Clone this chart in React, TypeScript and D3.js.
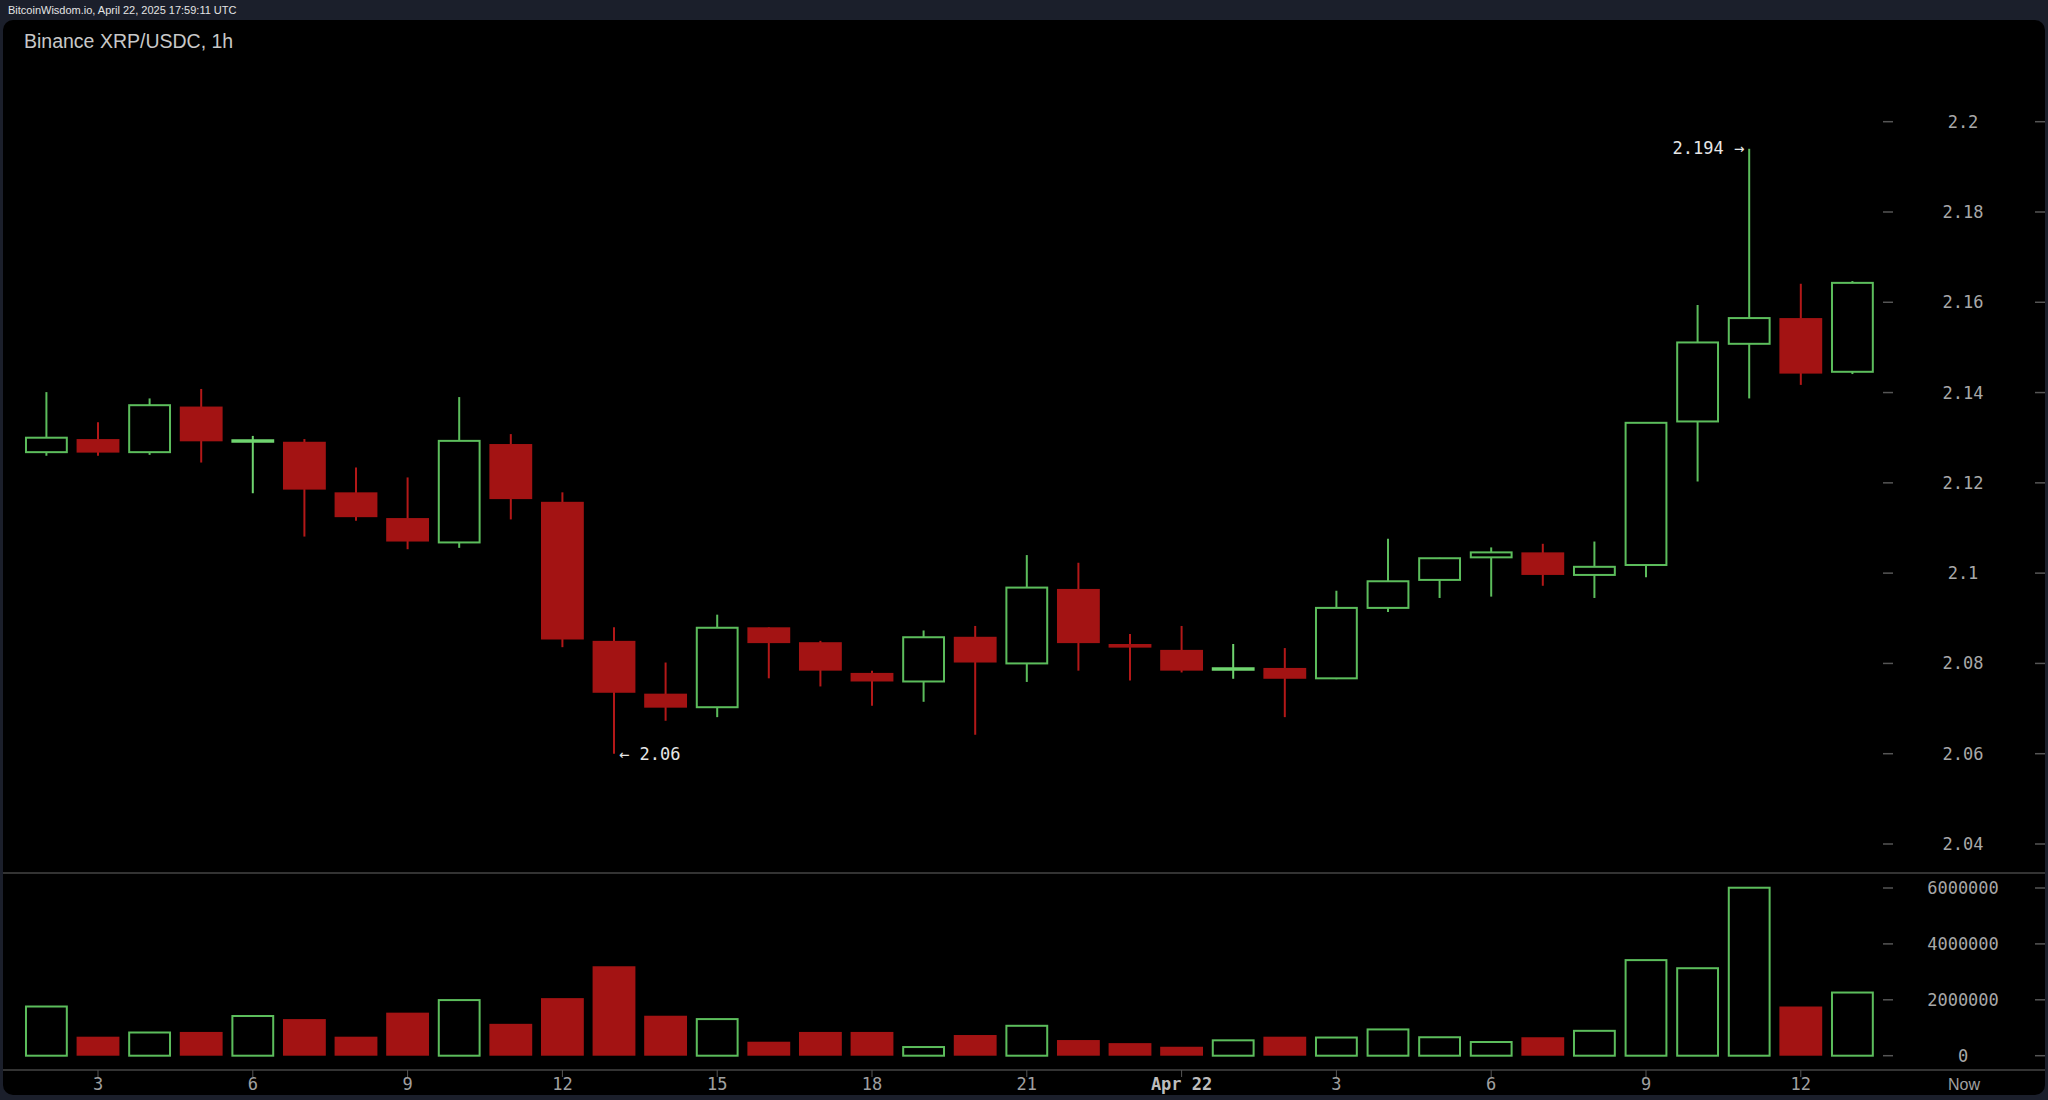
import React, { useRef, useEffect } from 'react';
import * as d3 from 'd3';

// hourly candles, Binance XRP/USDC
const times = [
  '2025-04-21 02:00', '2025-04-21 03:00', '2025-04-21 04:00', '2025-04-21 05:00',
  '2025-04-21 06:00', '2025-04-21 07:00', '2025-04-21 08:00', '2025-04-21 09:00',
  '2025-04-21 10:00', '2025-04-21 11:00', '2025-04-21 12:00', '2025-04-21 13:00',
  '2025-04-21 14:00', '2025-04-21 15:00', '2025-04-21 16:00', '2025-04-21 17:00',
  '2025-04-21 18:00', '2025-04-21 19:00', '2025-04-21 20:00', '2025-04-21 21:00',
  '2025-04-21 22:00', '2025-04-21 23:00', '2025-04-22 00:00', '2025-04-22 01:00',
  '2025-04-22 02:00', '2025-04-22 03:00', '2025-04-22 04:00', '2025-04-22 05:00',
  '2025-04-22 06:00', '2025-04-22 07:00', '2025-04-22 08:00', '2025-04-22 09:00',
  '2025-04-22 10:00', '2025-04-22 11:00', '2025-04-22 12:00', '2025-04-22 13:00',
];

const opens = [
  2.1268, 2.1297, 2.1268, 2.1369, 2.1292, 2.1291, 2.1179, 2.1122, 2.1068, 2.1286,
  2.1158, 2.0850, 2.0733, 2.0703, 2.0880, 2.0847, 2.0779, 2.0760, 2.0859, 2.0800,
  2.0965, 2.0843, 2.0830, 2.0787, 2.0790, 2.0767, 2.0923, 2.0985, 2.1035, 2.1046,
  2.0996, 2.1018, 2.1336, 2.1508, 2.1565, 2.1446,
];
const highs = [
  2.1401, 2.1334, 2.1387, 2.1408, 2.1304, 2.1297, 2.1234, 2.1212, 2.1390, 2.1308,
  2.1179, 2.0880, 2.0802, 2.0908, 2.0880, 2.0850, 2.0784, 2.0873, 2.0883, 2.1040,
  2.1023, 2.0865, 2.0883, 2.0843, 2.0834, 2.0961, 2.1076, 2.1034, 2.1057, 2.1065,
  2.1070, 2.1335, 2.1594, 2.1940, 2.1641, 2.1647,
];
const lows = [
  2.1260, 2.1260, 2.1262, 2.1245, 2.1177, 2.1081, 2.1116, 2.1053, 2.1056, 2.1119,
  2.0836, 2.0600, 2.0673, 2.0681, 2.0767, 2.0749, 2.0706, 2.0715, 2.0642, 2.0759,
  2.0784, 2.0762, 2.0780, 2.0766, 2.0681, 2.0765, 2.0914, 2.0945, 2.0948, 2.0972,
  2.0945, 2.0991, 2.1203, 2.1387, 2.1417, 2.1441,
];
const closes = [
  2.1300, 2.1267, 2.1372, 2.1292, 2.1293, 2.1185, 2.1124, 2.1070, 2.1293, 2.1164,
  2.0853, 2.0735, 2.0702, 2.0879, 2.0845, 2.0784, 2.0760, 2.0858, 2.0802, 2.0968,
  2.0845, 2.0835, 2.0784, 2.0788, 2.0766, 2.0923, 2.0982, 2.1033, 2.1046, 2.0996,
  2.1014, 2.1333, 2.1511, 2.1565, 2.1442, 2.1643,
];
const volumes = [
  1760000, 680000, 830000, 850000, 1420000, 1310000, 680000, 1540000, 1990000, 1140000,
  2060000, 3200000, 1430000, 1310000, 500000, 850000, 850000, 310000, 740000, 1070000,
  560000, 450000, 320000, 550000, 680000, 650000, 940000, 660000, 490000, 660000,
  890000, 3420000, 3130000, 6010000, 1760000, 2260000,
];

const priceTicks = [2.04, 2.06, 2.08, 2.1, 2.12, 2.14, 2.16, 2.18, 2.2];
const volumeTicks = [0, 2000000, 4000000, 6000000];

const GREEN = '#5cbd5c';
const GREEN_DOJI = '#6fd46f';
const RED = '#a31313';
const MONO = '"DejaVu Sans Mono", monospace';

const CandleChart: React.FC<{ width?: number; height?: number }> = ({ width = 2048, height = 1100 }) => {
  const svgRef = useRef<SVGSVGElement>(null);

  useEffect(() => {
    if (!svgRef.current) return;
    const svg = d3.select(svgRef.current);
    svg.selectAll('*').remove();

    const parse = d3.timeParse('%Y-%m-%d %H:%M');
    const data = times.map((t, i) => ({
      date: parse(t) as Date,
      open: opens[i],
      high: highs[i],
      low: lows[i],
      close: closes[i],
      volume: volumes[i],
    }));

    // frame
    svg.append('rect').attr('width', width).attr('height', height).attr('fill', '#1b1f2b');
    svg.append('rect')
      .attr('x', 3).attr('y', 20)
      .attr('width', width - 6).attr('height', height - 25)
      .attr('rx', 10)
      .attr('fill', '#000');

    svg.append('text')
      .attr('x', 8).attr('y', 14)
      .style('font-family', '"Liberation Sans", Arial, sans-serif')
      .style('font-size', '11px')
      .style('fill', '#e4e4e4')
      .text('BitcoinWisdom.io, April 22, 2025 17:59:11 UTC');

    svg.append('text')
      .attr('x', 24).attr('y', 48)
      .style('font-family', '"Liberation Sans", Arial, sans-serif')
      .style('font-size', '19.5px')
      .style('fill', '#c8c8c8')
      .text('Binance XRP/USDC, 1h');

    // scales
    const xScale = d3.scaleTime()
      .domain([data[0].date, data[data.length - 1].date])
      .range([46.4, 1852.4]);
    const step = xScale(data[1].date) - xScale(data[0].date);
    const bodyW = step * 0.83;

    const yPrice = d3.scaleLinear().domain([2.04, 2.2]).range([844, 121.7]);
    const yVol = d3.scaleLinear().domain([0, 6000000]).range([1055.7, 888]);

    // pane separators
    [873, 1070].forEach(y => {
      svg.append('line')
        .attr('x1', 3).attr('x2', width - 3)
        .attr('y1', y).attr('y2', y)
        .attr('stroke', '#454545')
        .attr('stroke-width', 1.5);
    });

    // right axis (price + volume)
    const axisG = svg.append('g');
    const drawTick = (y: number, label: string) => {
      axisG.append('line').attr('x1', 1883).attr('x2', 1893).attr('y1', y).attr('y2', y)
        .attr('stroke', '#555').attr('stroke-width', 1.5);
      axisG.append('line').attr('x1', 2035).attr('x2', 2045).attr('y1', y).attr('y2', y)
        .attr('stroke', '#555').attr('stroke-width', 1.5);
      axisG.append('text')
        .attr('x', 1963).attr('y', y)
        .attr('text-anchor', 'middle')
        .attr('dominant-baseline', 'central')
        .style('font-family', MONO)
        .style('font-size', '17px')
        .style('fill', '#a8a8a8')
        .text(label);
    };
    priceTicks.forEach(p => drawTick(yPrice(p), String(+p.toFixed(4))));
    volumeTicks.forEach(v => drawTick(yVol(v), d3.format('d')(v)));

    // x axis
    const xTicks = xScale.ticks(d3.timeHour.every(3) as d3.TimeInterval);
    const xg = svg.append('g');
    xTicks.forEach(t => {
      const x = xScale(t);
      const midnight = t.getHours() === 0;
      xg.append('line').attr('x1', x).attr('x2', x).attr('y1', 1070).attr('y2', 1077)
        .attr('stroke', '#555').attr('stroke-width', 1);
      xg.append('text')
        .attr('x', x).attr('y', 1090)
        .attr('text-anchor', 'middle')
        .style('font-family', MONO)
        .style('font-size', '17px')
        .style('font-weight', midnight ? 'bold' : 'normal')
        .style('fill', midnight ? '#bdbdbd' : '#a0a0a0')
        .text(midnight ? d3.timeFormat('%b %-d')(t) : d3.timeFormat('%-H')(t));
    });
    xg.append('text')
      .attr('x', 1964).attr('y', 1090)
      .attr('text-anchor', 'middle')
      .style('font-family', '"Liberation Sans", Arial, sans-serif')
      .style('font-size', '16px')
      .style('fill', '#a0a0a0')
      .text('Now');

    // volume bars
    const volG = svg.append('g');
    data.forEach(d => {
      const up = d.close >= d.open;
      const x = xScale(d.date);
      volG.append('rect')
        .attr('x', x - bodyW / 2 + (up ? 1 : 0))
        .attr('y', yVol(d.volume))
        .attr('width', bodyW - (up ? 2 : 0))
        .attr('height', yVol(0) - yVol(d.volume))
        .attr('fill', up ? 'none' : RED)
        .attr('stroke', up ? GREEN : 'none')
        .attr('stroke-width', 2);
    });

    // candles
    const cG = svg.append('g');
    data.forEach(d => {
      const up = d.close >= d.open;
      const x = xScale(d.date);
      const top = yPrice(Math.max(d.open, d.close));
      const bot = yPrice(Math.min(d.open, d.close));
      const color = up ? GREEN : RED;
      if (bot - top < 2) {
        cG.append('line').attr('x1', x).attr('x2', x)
          .attr('y1', yPrice(d.high)).attr('y2', yPrice(d.low))
          .attr('stroke', up ? GREEN_DOJI : RED).attr('stroke-width', 2);
        cG.append('line').attr('x1', x - bodyW / 2).attr('x2', x + bodyW / 2)
          .attr('y1', (top + bot) / 2).attr('y2', (top + bot) / 2)
          .attr('stroke', up ? GREEN_DOJI : RED).attr('stroke-width', 3.5);
        return;
      }
      if (up) {
        cG.append('line').attr('x1', x).attr('x2', x)
          .attr('y1', yPrice(d.high)).attr('y2', top)
          .attr('stroke', color).attr('stroke-width', 2);
        cG.append('line').attr('x1', x).attr('x2', x)
          .attr('y1', bot).attr('y2', yPrice(d.low))
          .attr('stroke', color).attr('stroke-width', 2);
        cG.append('rect')
          .attr('x', x - bodyW / 2 + 1).attr('y', top)
          .attr('width', bodyW - 2).attr('height', bot - top)
          .attr('fill', 'none').attr('stroke', color).attr('stroke-width', 2);
      } else {
        cG.append('line').attr('x1', x).attr('x2', x)
          .attr('y1', yPrice(d.high)).attr('y2', yPrice(d.low))
          .attr('stroke', '#b31818').attr('stroke-width', 2);
        cG.append('rect')
          .attr('x', x - bodyW / 2).attr('y', top)
          .attr('width', bodyW).attr('height', bot - top)
          .attr('fill', color);
      }
    });

    // high / low markers
    const hiIdx = d3.maxIndex(data, d => d.high);
    const loIdx = d3.minIndex(data, d => d.low);
    const hi = data[hiIdx];
    const lo = data[loIdx];
    svg.append('text')
      .attr('x', xScale(hi.date) - 5).attr('y', yPrice(hi.high) - 1)
      .attr('text-anchor', 'end')
      .attr('dominant-baseline', 'central')
      .style('font-family', MONO)
      .style('font-size', '17px')
      .style('fill', '#e6e6e6')
      .text(`${+hi.high.toFixed(3)} \u2192`);
    svg.append('text')
      .attr('x', xScale(lo.date) + 5).attr('y', yPrice(lo.low))
      .attr('text-anchor', 'start')
      .attr('dominant-baseline', 'central')
      .style('font-family', MONO)
      .style('font-size', '17px')
      .style('fill', '#e6e6e6')
      .text(`\u2190 ${+lo.low.toFixed(3)}`);
  }, [width, height]);

  return (
    <svg ref={svgRef} width={width} height={height}
      style={{ position: 'absolute', left: 0, top: 0, display: 'block' }}></svg>
  );
};

export default function App() {
  return <CandleChart />;
}
